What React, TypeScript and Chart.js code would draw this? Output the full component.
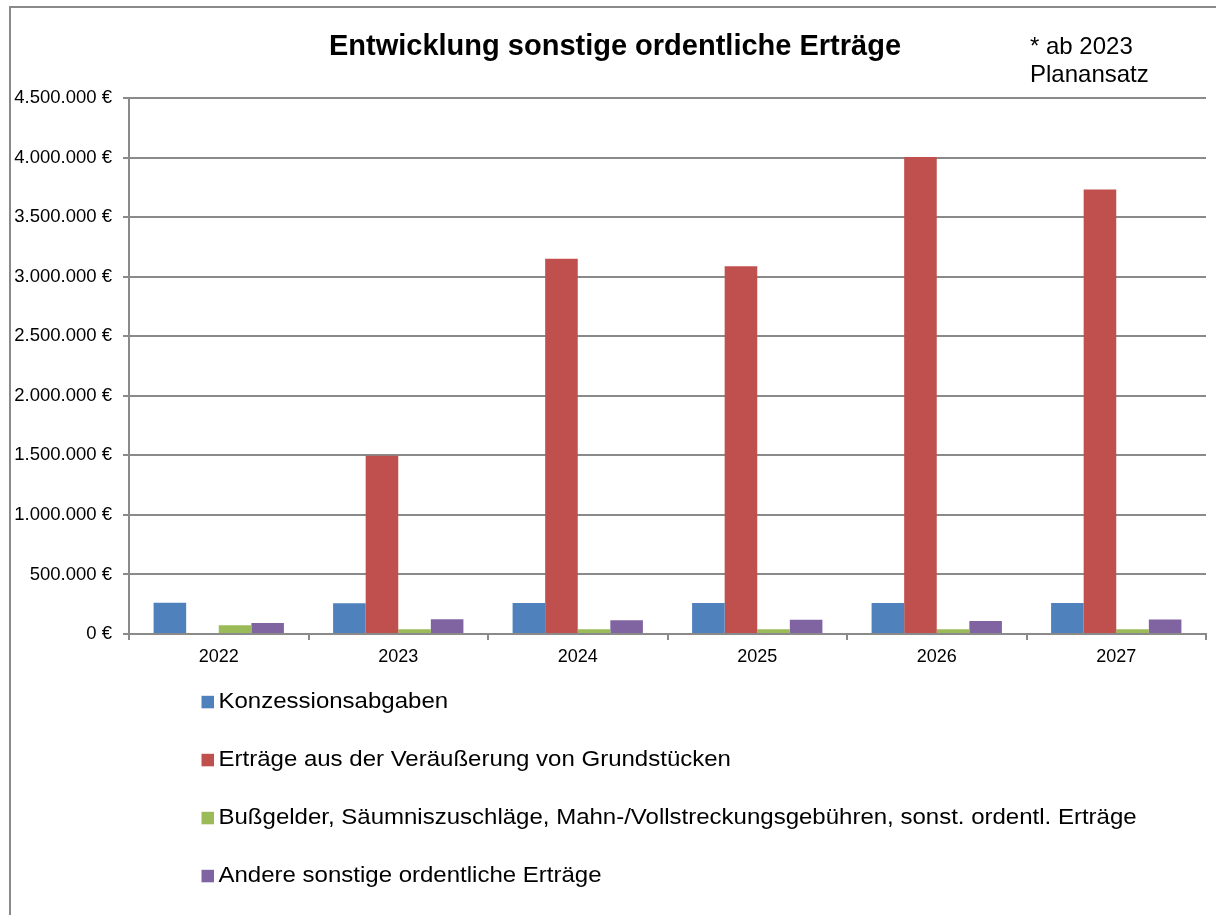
import React, { useEffect, useRef } from "react";
import { Chart, registerables } from "chart.js";

Chart.register(...registerables);

const categories = ["2022", "2023", "2024", "2025", "2026", "2027"];
const seriesNames = [
  "Konzessionsabgaben",
  "Erträge aus der Veräußerung von Grundstücken",
  "Bußgelder, Säumniszuschläge, Mahn-/Vollstreckungsgebühren, sonst. ordentl. Erträge",
  "Andere sonstige ordentliche Erträge",
];
const konzession = [263000, 258000, 260000, 260000, 260000, 260000];
const grundstuecke = [0, 1497000, 3150000, 3087000, 4005000, 3732000];
const bussgelder = [73000, 40000, 40000, 40000, 40000, 40000];
const andere = [92000, 123000, 115000, 119000, 109000, 121000];
const seriesColors = ["#4F81BD", "#C0504D", "#9BBB59", "#8064A2"];
const titleText = "Entwicklung sonstige ordentliche Erträge";
const noteLines = ["* ab 2023", "Planansatz"];
const yMax = 4500000;
const yStep = 500000;

const fmtEuro = (v: number) =>
  String(Math.round(v)).replace(/\B(?=(\d{3})+(?!\d))/g, ".") + " €";

const FONT = '"Liberation Sans", Arial, sans-serif';
const GRID = "#8a8a8a";

const decorPlugin = {
  id: "decor",
  afterDraw(chart: any) {
    const ctx = chart.ctx;
    ctx.save();
    // frame
    ctx.strokeStyle = GRID;
    ctx.lineWidth = 2;
    ctx.beginPath();
    ctx.moveTo(10, 915);
    ctx.lineTo(10, 7);
    ctx.lineTo(1216, 7);
    ctx.stroke();
    // title
    ctx.fillStyle = "#000";
    ctx.font = `bold 29px ${FONT}`;
    ctx.textAlign = "center";
    ctx.textBaseline = "alphabetic";
    ctx.fillText(titleText, 615, 55);
    // note
    ctx.font = `24px ${FONT}`;
    ctx.textAlign = "left";
    ctx.fillText(noteLines[0], 1030, 54);
    ctx.fillText(noteLines[1], 1030, 81.5);
    // legend
    const ds = chart.data.datasets;
    ds.forEach((d: any, i: number) => {
      const base = 708.3 + i * 58;
      ctx.fillStyle = d.backgroundColor;
      ctx.fillRect(201.5, base - 12.5, 12.5, 12.5);
      ctx.fillStyle = "#000";
      ctx.font = `22.5px ${FONT}`;
      ctx.save();
      ctx.translate(218.5, base);
      ctx.scale(1.067, 1);
      ctx.fillText(d.label, 0, 0);
      ctx.restore();
    });
    ctx.restore();
  },
};

export default function App() {
  const ref = useRef<HTMLCanvasElement | null>(null);
  useEffect(() => {
    if (!ref.current) return;
    const data = [konzession, grundstuecke, bussgelder, andere];
    const chart = new Chart(ref.current, {
      type: "bar",
      data: {
        labels: categories,
        datasets: seriesNames.map((name, i) => ({
          label: name,
          data: data[i],
          backgroundColor: seriesColors[i],
          borderWidth: 0,
          categoryPercentage: 0.726,
          barPercentage: 1,
        })),
      },
      options: {
        responsive: false,
        animation: false,
        layout: { padding: { left: 0, right: 10, top: 98, bottom: 241 } },
        plugins: {
          legend: { display: false },
          title: { display: false },
          tooltip: { enabled: false },
        },
        scales: {
          x: {
            afterFit: (s: any) => {
              s.height = 40;
            },
            grid: {
              offset: true,
              drawOnChartArea: false,
              drawTicks: true,
              tickLength: 6,
              color: GRID,
              lineWidth: 2,
            },
            border: { display: true, color: GRID, width: 2 },
            ticks: {
              color: "#000",
              padding: 6,
              font: { family: FONT, size: 18 },
              maxRotation: 0,
            },
          },
          y: {
            min: 0,
            max: yMax,
            afterFit: (s: any) => {
              s.width = 129;
            },
            grid: {
              drawTicks: true,
              tickLength: 6,
              color: GRID,
              lineWidth: 2,
            },
            border: { display: true, color: GRID, width: 2 },
            ticks: {
              stepSize: yStep,
              color: "#000",
              padding: 11,
              font: { family: FONT, size: 18.5 },
              callback: (v: any) => fmtEuro(Number(v)),
            },
          },
        },
      },
      plugins: [decorPlugin],
    });
    return () => chart.destroy();
  }, []);
  return (
    <div style={{ position: "absolute", left: 0, top: 0, width: 1216, height: 915, background: "#fff" }}>
      <canvas ref={ref} width={1216} height={915} style={{ display: "block" }} />
    </div>
  );
}
